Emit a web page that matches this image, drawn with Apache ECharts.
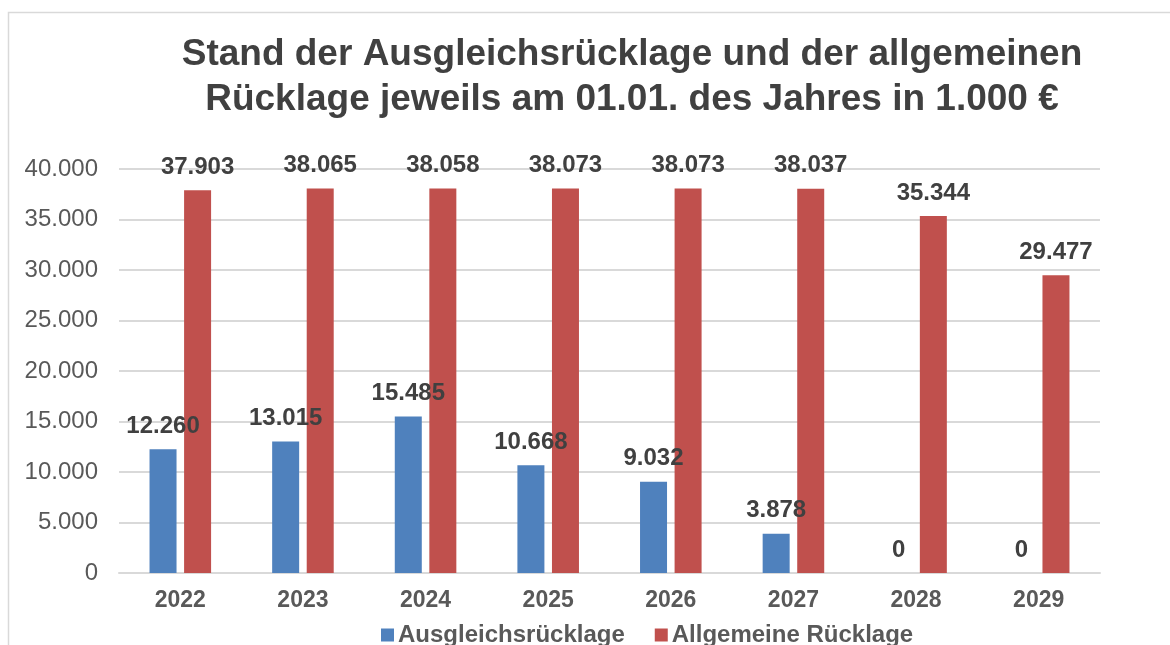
<!DOCTYPE html>
<html>
<head>
<meta charset="utf-8">
<script src="https://cdn.jsdelivr.net/npm/echarts@6/dist/echarts.min.js"></script>
<style>
  html, body { margin: 0; padding: 0; background: #fff; }
  #main { width: 1170px; height: 645px; }
</style>
</head>
<body>
<div id="main"></div>
<script>
var years = ['2022', '2023', '2024', '2025', '2026', '2027', '2028', '2029']
var ausgleich = [12260, 13015, 15485, 10668, 9032, 3878, 0, 0]
var allgemein = [37903, 38065, 38058, 38073, 38073, 38037, 35344, 29477]
var seriesNames = ['Ausgleichsrücklage', 'Allgemeine Rücklage']

function fmt (v) {
  return String(Math.round(v)).replace(/\B(?=(\d{3})+(?!\d))/g, '.')
}

var myChart = echarts.init(document.querySelector('#main'))

var labelStyle = {
  show: true,
  position: 'top',
  distance: 11,
  fontFamily: 'Liberation Sans, Arial, sans-serif',
  fontSize: 24,
  fontWeight: 'bold',
  color: '#404040',
  formatter: function (p) { return fmt(p.value) }
}

var option = {
  backgroundColor: '#fff',
  textStyle: { fontFamily: 'Liberation Sans, Arial, sans-serif' },
  graphic: [{
    type: 'rect',
    shape: { x: 8.5, y: 12.5, width: 1300, height: 800 },
    style: { fill: 'none', stroke: '#d9d9d9', lineWidth: 1.5 },
    silent: true
  }],
  title: {
    text: 'Stand der Ausgleichsrücklage und der allgemeinen\nRücklage jeweils am 01.01. des Jahres in 1.000 €',
    left: 627,
    top: 27,
    textAlign: 'center',
    textStyle: {
      fontFamily: 'Liberation Sans, Arial, sans-serif',
      fontSize: 37,
      fontWeight: 'bold',
      color: '#404040',
      lineHeight: 45
    }
  },
  legend: {
    data: seriesNames,
    top: 618,
    left: 376,
    icon: 'rect',
    itemWidth: 13,
    itemHeight: 13,
    itemGap: 30,
    textStyle: {
      fontFamily: 'Liberation Sans, Arial, sans-serif',
      fontSize: 24,
      fontWeight: 'bold',
      color: '#595959',
      padding: [0, 0, 0, -1]
    }
  },
  grid: { left: 119, right: 70, top: 169, bottom: 72 },
  xAxis: {
    type: 'category',
    data: years,
    axisTick: { show: false },
    axisLine: { lineStyle: { color: '#d9d9d9', width: 2 } },
    axisLabel: {
      margin: 16,
      fontSize: 23,
      fontWeight: 'bold',
      color: '#595959'
    }
  },
  yAxis: {
    type: 'value',
    min: 0,
    max: 40000,
    interval: 5000,
    axisLine: { show: false },
    axisTick: { show: false },
    splitLine: { lineStyle: { color: '#d9d9d9', width: 2 } },
    axisLabel: {
      margin: 21,
      fontSize: 24,
      color: '#595959',
      formatter: fmt
    }
  },
  series: [
    {
      name: seriesNames[0],
      type: 'bar',
      data: ausgleich,
      barWidth: 27,
      barGap: '28%',
      itemStyle: { color: '#4f81bd' },
      label: labelStyle,
      z: 2
    },
    {
      name: seriesNames[1],
      type: 'bar',
      data: allgemein,
      barWidth: 27,
      barGap: '28%',
      itemStyle: { color: '#c0504d' },
      label: labelStyle,
      z: 2
    }
  ]
}
myChart.setOption(option)
</script>
</body>
</html>
